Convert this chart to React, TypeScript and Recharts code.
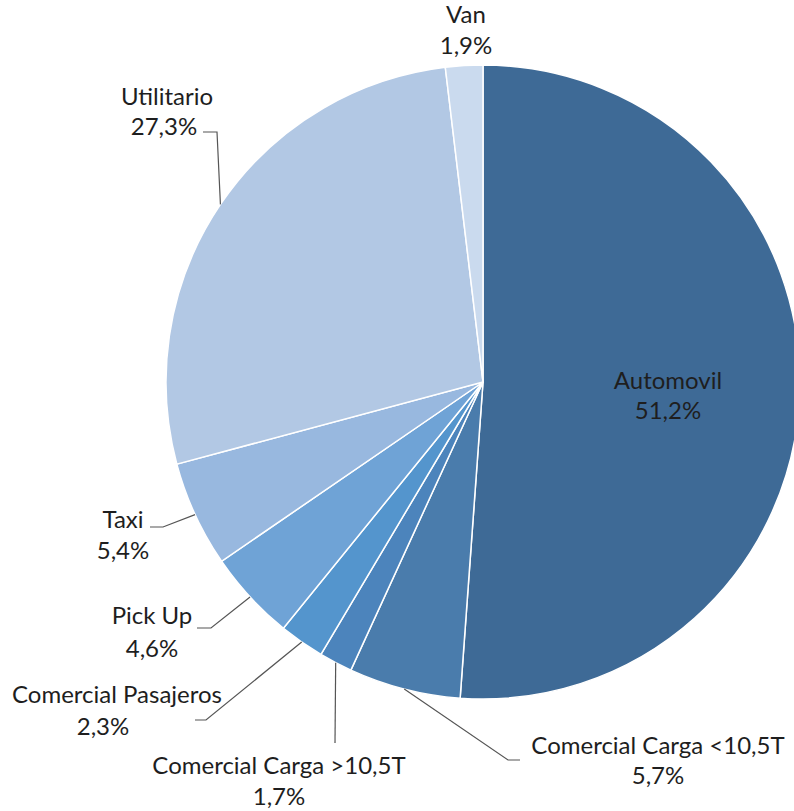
import React from 'react';
import { PieChart, Pie, Cell } from 'recharts';

const categories = [
  'Automovil',
  'Comercial Carga <10,5T',
  'Comercial Carga >10,5T',
  'Comercial Pasajeros',
  'Pick Up',
  'Taxi',
  'Utilitario',
  'Van',
];
const shares = [51.2, 5.7, 1.7, 2.3, 4.6, 5.4, 27.3, 1.9];
const colors = ['#3E6A96', '#4A7CAC', '#4C84BC', '#5495CD', '#6FA3D6', '#98B8DF', '#B2C8E4', '#CADAEE'];

const data = categories.map((name, i) => ({ name, value: shares[i] }));

// label placement relative to pie center: name line, pct line, leader elbow + end (null = no leader)
const labelLayout: {
  name: [number, number];
  pct: [number, number];
  leader: [number, number][] | null;
}[] = [
  { name: [185, -3], pct: [185, 27], leader: null },
  { name: [175, 362], pct: [175, 392], leader: [[25, 378], [37, 378]] },
  { name: [-204, 382], pct: [-204, 413], leader: [[-148, 361]] },
  { name: [-366, 311], pct: [-380, 343], leader: [[-277, 338], [-288, 338]] },
  { name: [-331, 232], pct: [-331, 265], leader: [[-272, 246], [-286, 246]] },
  { name: [-360, 136], pct: [-360, 167], leader: [[-320, 145], [-333, 145]] },
  { name: [-316, -287], pct: [-319, -257], leader: [[-266, -250], [-280, -250]] },
  { name: [-17, -369], pct: [-17, -338], leader: null },
];

const RAD = Math.PI / 180;

const renderLabel = (props: any) => {
  const { cx, cy, midAngle, outerRadius, index, value, name } = props;
  const l = labelLayout[index];
  const ex = cx + outerRadius * Math.cos(-midAngle * RAD);
  const ey = cy + outerRadius * Math.sin(-midAngle * RAD);
  const pts = l.leader ? [[ex, ey], ...l.leader.map(([dx, dy]) => [cx + dx, cy + dy])] : null;
  const txt = {
    fill: '#1e1e1e',
    fontSize: 24,
    fontFamily: 'Lato, sans-serif',
    textAnchor: 'middle' as const,
    dominantBaseline: 'central' as const,
  };
  return (
    <g key={`lbl-${index}`}>
      {pts && (
        <polyline
          points={pts.map((p) => p.join(',')).join(' ')}
          fill="none"
          stroke="#555"
          strokeWidth={1.2}
        />
      )}
      <text x={cx + l.name[0]} y={cy + l.name[1]} {...txt}>
        {name}
      </text>
      <text x={cx + l.pct[0]} y={cy + l.pct[1]} {...txt}>
        {`${value.toFixed(1).replace('.', ',')}%`}
      </text>
    </g>
  );
};

const App: React.FC = () => {
  return (
    <div
      style={{
        position: 'absolute',
        top: 0,
        left: 0,
        width: 794,
        height: 811,
        overflow: 'hidden',
        background: '#fff',
      }}
    >
      <PieChart width={794} height={811} margin={{ top: 0, right: 0, bottom: 0, left: 0 }}>
        <Pie
          data={data}
          dataKey="value"
          nameKey="name"
          cx={483}
          cy={382}
          outerRadius={317}
          startAngle={90}
          endAngle={-270}
          stroke="#fff"
          strokeWidth={1.5}
          label={renderLabel}
          labelLine={false}
          isAnimationActive={false}
        >
          {data.map((d, i) => (
            <Cell key={d.name} fill={colors[i]} />
          ))}
        </Pie>
      </PieChart>
    </div>
  );
};

export default App;
